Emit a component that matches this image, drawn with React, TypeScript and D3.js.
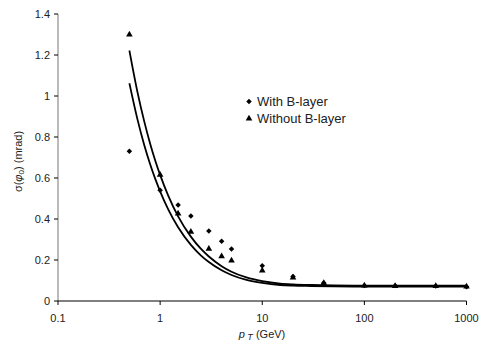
import React from "react";
import * as d3 from "d3";

// Track transverse momentum points (GeV)
const ptPoints = [0.5, 1, 1.5, 2, 3, 4, 5, 10, 20, 40, 100, 200, 500, 1000];
// Impact resolution sigma(phi0) in mrad
const withBLayer = [0.73, 0.54, 0.468, 0.415, 0.341, 0.291, 0.254, 0.172, 0.119, 0.088, 0.075, 0.075, 0.073, 0.07];
const withoutBLayer = [1.3, 0.616, 0.426, 0.337, 0.254, 0.218, 0.197, 0.148, 0.114, 0.088, 0.075, 0.073, 0.073, 0.07];

// Parametrised resolution curves sampled along pT
const curvePt = [0.5, 0.6, 0.7, 0.8, 0.9, 1, 1.2, 1.5, 2, 2.5, 3, 4, 5, 7, 10, 15, 20, 30, 50, 100, 200, 500, 1000];
const curveUpper = [1.222, 1.019, 0.875, 0.766, 0.682, 0.615, 0.514, 0.413, 0.314, 0.255, 0.217, 0.17, 0.143, 0.115, 0.097, 0.085, 0.081, 0.078, 0.076, 0.075, 0.075, 0.075, 0.075];
const curveLower = [1.062, 0.886, 0.76, 0.666, 0.593, 0.535, 0.447, 0.36, 0.274, 0.223, 0.19, 0.15, 0.127, 0.103, 0.088, 0.078, 0.075, 0.073, 0.071, 0.07, 0.07, 0.07, 0.07];

const xTicks = [0.1, 1, 10, 100, 1000];
const yTicks = [0, 0.2, 0.4, 0.6, 0.8, 1, 1.2, 1.4];

const W = 483;
const H = 349;
const left = 58;
const right = 466.5;
const top = 14;
const bottom = 301;

export default function App() {
  const x = d3.scaleLog().domain([0.1, 1000]).range([left, right]);
  const y = d3.scaleLinear().domain([0, 1.4]).range([bottom, top]);

  const line = d3
    .line<[number, number]>()
    .x((d) => x(d[0]))
    .y((d) => y(d[1]))
    .curve(d3.curveMonotoneX);

  const upper = line(curvePt.map((p, i) => [p, curveUpper[i]]) as [number, number][]) || "";
  const lower = line(curvePt.map((p, i) => [p, curveLower[i]]) as [number, number][]) || "";

  const diamond = d3.symbol().type(d3.symbolSquare).size(15)() || "";
  const triangle = d3.symbol().type(d3.symbolTriangle).size(19)() || "";

  const font = "'Liberation Sans', Arial, sans-serif";

  return (
    <svg
      width={W}
      height={H}
      style={{ position: "absolute", left: 0, top: 0, background: "#fff" }}
      fontFamily={font}
    >
      {/* y axis */}
      <line x1={left} x2={left} y1={top} y2={bottom} stroke="#777" strokeWidth={1} />
      {yTicks.map((t) => (
        <g key={"y" + t}>
          <line x1={left - 4} x2={left} y1={y(t)} y2={y(t)} stroke="#000" />
          <text x={left - 8} y={y(t)} dy="0.35em" textAnchor="end" fontSize={11} fill="#222">
            {t}
          </text>
        </g>
      ))}
      {/* x axis */}
      <line x1={left} x2={right} y1={bottom} y2={bottom} stroke="#000" strokeWidth={1} />
      {xTicks.map((t) => (
        <g key={"x" + t}>
          <line x1={x(t)} x2={x(t)} y1={bottom} y2={bottom + 4} stroke="#000" />
          <text x={x(t)} y={bottom + 21} textAnchor="middle" fontSize={11} fill="#222">
            {t}
          </text>
        </g>
      ))}

      {/* fitted curves */}
      <path d={upper} fill="none" stroke="#000" strokeWidth={1.8} />
      <path d={lower} fill="none" stroke="#000" strokeWidth={1.8} />

      {/* data markers */}
      {ptPoints.map((p, i) => (
        <path
          key={"d" + i}
          d={diamond}
          transform={`translate(${x(p)},${y(withBLayer[i])}) rotate(45)`}
          fill="#000"
        />
      ))}
      {ptPoints.map((p, i) => (
        <path key={"t" + i} d={triangle} transform={`translate(${x(p)},${y(withoutBLayer[i])})`} fill="#000" />
      ))}

      {/* legend */}
      <path d={diamond} transform="translate(249,101.5) rotate(45)" fill="#000" />
      <text x={257} y={101.5} dy="0.35em" fontSize={13} fill="#222">
        With B-layer
      </text>
      <path d={triangle} transform="translate(249,118.5)" fill="#000" />
      <text x={257} y={118.5} dy="0.35em" fontSize={13} fill="#222">
        Without B-layer
      </text>

      {/* axis titles */}
      <text x={262} y={338} textAnchor="middle" fontSize={11} fill="#222">
        <tspan fontStyle="italic">p</tspan>
        <tspan fontStyle="italic" fontSize={9} dy={2}> T</tspan>
        <tspan dy={-2}> (GeV)</tspan>
      </text>
      <text
        transform={`translate(22,${(top + bottom) / 2 + 4}) rotate(-90)`}
        textAnchor="middle"
        fontSize={11}
        fill="#222"
      >
        <tspan>σ(</tspan>
        <tspan fontStyle="italic">φ</tspan>
        <tspan fontSize={8} dy={2}>0</tspan>
        <tspan dy={-2}>) (mrad)</tspan>
      </text>
    </svg>
  );
}
